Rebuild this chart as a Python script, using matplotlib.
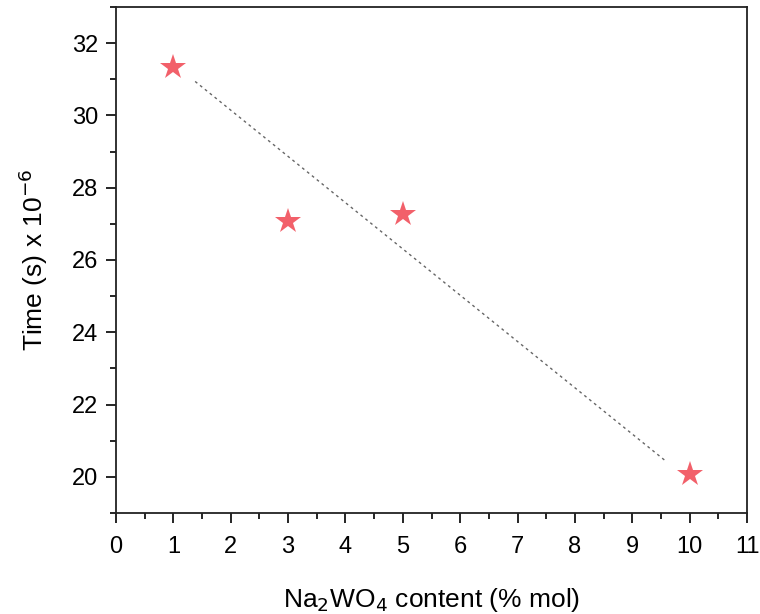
import numpy as np
import matplotlib.pyplot as plt
from matplotlib.ticker import MultipleLocator

plt.rcParams['font.family'] = ['Liberation Sans', 'DejaVu Sans']

# measured points
content = [1, 3, 5, 10]
time_us = [31.35, 27.08, 27.27, 20.07]

# dotted trend line, endpoints
trend_x = [1.38, 9.58]
trend_y = [30.94, 20.44]

fig = plt.figure(figsize=(7.6, 6.14), dpi=100)
ax = fig.add_axes([0.1526, 0.1645, 0.8304, 0.8241])

ax.plot(trend_x, trend_y, linestyle=(0, (2, 2.5)), color='#666666', linewidth=1.0)
ax.plot(content, time_us, linestyle='none', marker='*', markersize=19,
        color='#f2606a', markeredgewidth=0)

ax.set_xlim(0, 11)
ax.set_ylim(19, 33)
ax.xaxis.set_major_locator(MultipleLocator(1))
ax.xaxis.set_minor_locator(MultipleLocator(0.5))
ax.yaxis.set_major_locator(MultipleLocator(2))
ax.yaxis.set_minor_locator(MultipleLocator(1))
ax.set_yticks(np.arange(20, 33, 2))

for s in ax.spines.values():
    s.set_linewidth(1.3)
    s.set_color('#222222')
ax.tick_params(which='major', direction='out', length=7.5, width=1.2, labelsize=17, pad=5)
ax.tick_params(axis='x', which='major', pad=9)
ax.tick_params(which='minor', direction='out', length=4, width=1.2)

ax.set_xlabel('Na$_2$WO$_4$ content (% mol)', fontsize=19, labelpad=20)
ax.set_ylabel('Time (s) x 10$^{-6}$', fontsize=19, labelpad=16)

fig.savefig('out.png', dpi=100)
